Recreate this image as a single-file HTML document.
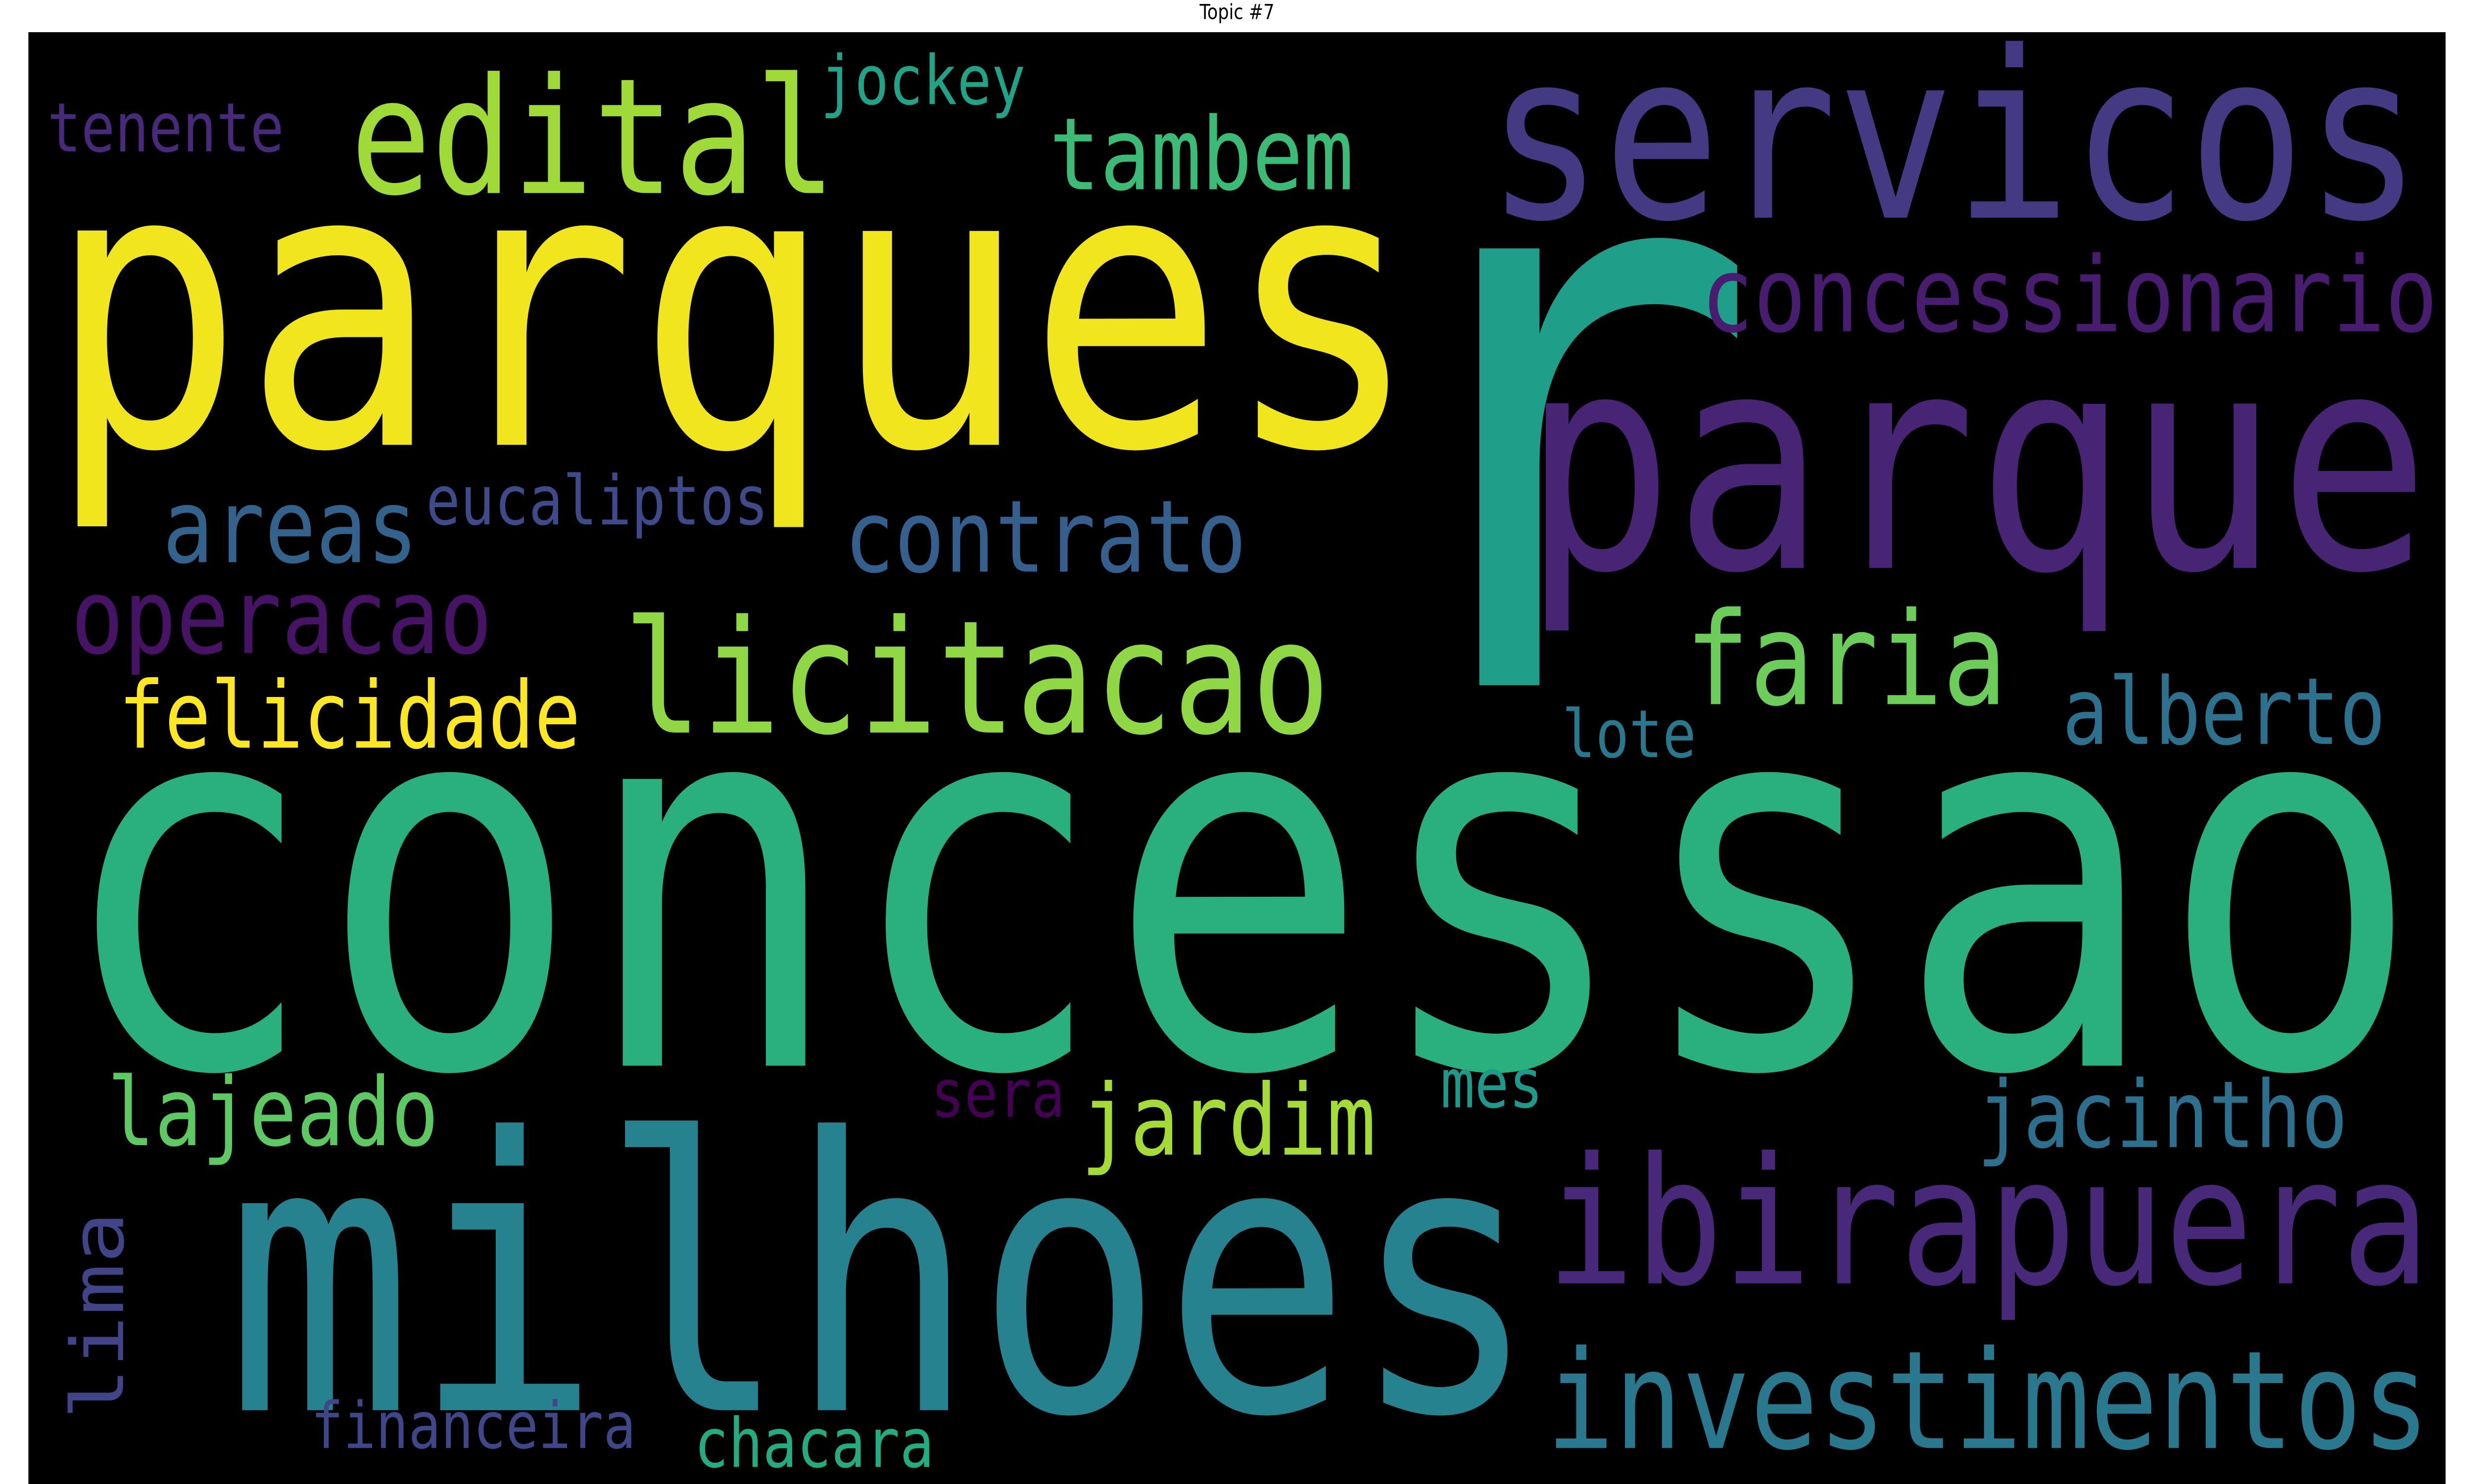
<!DOCTYPE html>
<html><head><meta charset="utf-8">
<style>
html,body{margin:0;padding:0;background:#fff;width:100vw;height:100vh;overflow:hidden}
#wc{position:absolute;left:0;top:0;width:100vw;height:100vh;display:block}
</style></head>
<body>
<svg id="wc" viewBox="0 0 1568 784" preserveAspectRatio="none" xmlns="http://www.w3.org/2000/svg">
<rect x="18" y="17" width="1532" height="767" fill="#000"/>
<text x="784" y="10" text-anchor="middle" font-family="'DejaVu Sans','Liberation Sans',sans-serif" font-size="11" fill="#000">Topic #7</text>
<g id="words" font-family="'DejaVu Sans Mono','Liberation Mono',monospace"></g>
</svg>
<script>
const words = ["parques","r","servicos","edital","jockey","tenente","tambem","concessionario","parque","areas","eucaliptos","contrato","operacao","licitacao","faria","felicidade","lote","alberto","concessao","lajeado","sera","jardim","mes","jacintho","milhoes","ibirapuera","lima","investimentos","financeira","chacara"];
const colors = ["#f1e51d","#1f9e89","#443983","#a0da39","#20a386","#472a7a","#3bbb75","#481c6e","#482475","#33638d","#3e4a89","#355f8d","#471365","#8fd744","#6ccd5a","#fde725","#2a788e","#2c728e","#2ab07f","#5ec962","#440154","#a5db36","#1f9a8a","#2d708e","#26828e","#482878","#414487","#2a788e","#3f4788","#25ab82"];
const leftX = [30,863,942,222,520,30,665,1078,965,103,270,535,45,395,1068,75,990,1307,35,68,590,685,913,1253,143,980,78,980,197,440];
const baseY = [235,362,115,102,55,80,100,175,300,297,277,302,345,387,372,395,400,393,563,605,590,610,585,606,745,678,750,765,765,775];
const inkW = [870,0,593,308,130,150,193,467,575,162,217,255,267,448,204,293,85,205,1500,210,85,187,65,235,832,560,110,560,206,152];
const fontSz = [207,422,123,85,36,36,53,55,159,54,36,53,55,83,68,49,35,49,277,50,35,52,36,49,200,93,46,72,34,36];
const vertical = [0,0,0,0,0,0,0,0,0,0,0,0,0,0,0,0,0,0,0,0,0,0,0,0,0,0,1,0,0,0];
const g = document.getElementById('words');
const NS = 'http://www.w3.org/2000/svg';
for (let i = 0; i < words.length; i++) {
  const t = document.createElementNS(NS, 'text');
  
  
  t.textContent = words[i];
  t.setAttribute('fill', colors[i]);
  t.setAttribute('font-size', fontSz[i]);
  if (inkW[i] > 0) {
    t.setAttribute('textLength', inkW[i]);
    t.setAttribute('lengthAdjust', 'spacingAndGlyphs');
  }
  if (vertical[i]) {
    t.setAttribute('transform', 'translate(' + leftX[i] + ',' + baseY[i] + ') rotate(-90)');
    t.setAttribute('x', 0); t.setAttribute('y', 0);
  } else {
    t.setAttribute('x', leftX[i]); t.setAttribute('y', baseY[i]);
  }
  g.appendChild(t);
}
</script>
</body></html>
